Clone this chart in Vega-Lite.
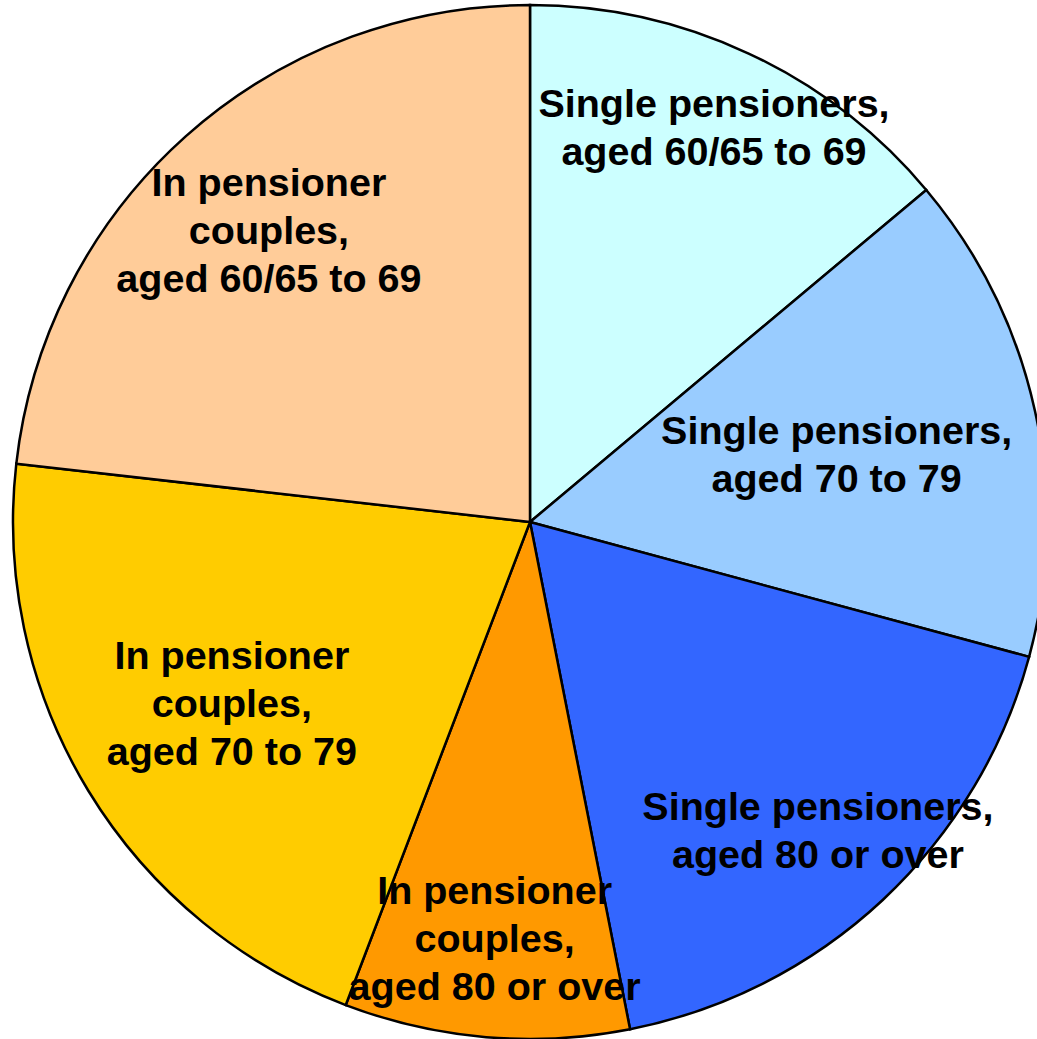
{
  "$schema": "https://vega.github.io/schema/vega-lite/v6.json",
  "width": 1014,
  "height": 1034,
  "autosize": {"type": "none"},
  "padding": {"left": 23, "top": 5, "right": 0, "bottom": 0},
  "background": "white",
  "config": {"view": {"stroke": null}},
  "data": {
    "values": [
      {"idx": 1, "cat": "Single pensioners, aged 60/65 to 69", "label": "Single pensioners,\naged 60/65 to 69", "share": 13.9},
      {"idx": 2, "cat": "Single pensioners, aged 70 to 79", "label": "Single pensioners,\naged 70 to 79", "share": 15.3},
      {"idx": 3, "cat": "Single pensioners, aged 80 or over", "label": "Single pensioners,\naged 80 or over", "share": 17.7},
      {"idx": 4, "cat": "In pensioner couples, aged 80 or over", "label": "In pensioner\ncouples,\naged 80 or over", "share": 8.9},
      {"idx": 5, "cat": "In pensioner couples, aged 70 to 79", "label": "In pensioner\ncouples,\naged 70 to 79", "share": 21.0},
      {"idx": 6, "cat": "In pensioner couples, aged 60/65 to 69", "label": "In pensioner\ncouples,\naged 60/65 to 69", "share": 23.2}
    ]
  },
  "encoding": {
    "theta": {"field": "share", "type": "quantitative", "stack": true},
    "order": {"field": "idx", "type": "quantitative"}
  },
  "layer": [
    {
      "mark": {"type": "arc", "outerRadius": 517, "stroke": "black", "strokeWidth": 2.5},
      "encoding": {
        "color": {
          "field": "cat",
          "type": "nominal",
          "legend": null,
          "scale": {
            "domain": ["Single pensioners, aged 60/65 to 69", "Single pensioners, aged 70 to 79", "Single pensioners, aged 80 or over", "In pensioner couples, aged 80 or over", "In pensioner couples, aged 70 to 79", "In pensioner couples, aged 60/65 to 69"],
            "range": ["#CCFFFF", "#99CCFF", "#3366FF", "#FF9900", "#FFCC00", "#FFCC99"]
          }
        }
      }
    },
    {
      "mark": {"type": "text", "radius": 435, "dy": -10.5, "font": "Liberation Sans", "fontWeight": "bold", "fontSize": 39.5, "lineHeight": 48, "lineBreak": "\n", "align": "center", "baseline": "alphabetic", "color": "black"},
      "encoding": {"text": {"condition": {"test": "datum.idx == 1", "field": "label"}, "value": ""}}
    },
    {
      "mark": {"type": "text", "radius": 314, "dy": -10.5, "font": "Liberation Sans", "fontWeight": "bold", "fontSize": 39.5, "lineHeight": 48, "lineBreak": "\n", "align": "center", "baseline": "alphabetic", "color": "black"},
      "encoding": {"text": {"condition": {"test": "datum.idx == 2", "field": "label"}, "value": ""}}
    },
    {
      "mark": {"type": "text", "radius": 422, "dy": -10.5, "font": "Liberation Sans", "fontWeight": "bold", "fontSize": 39.5, "lineHeight": 48, "lineBreak": "\n", "align": "center", "baseline": "alphabetic", "color": "black"},
      "encoding": {"text": {"condition": {"test": "datum.idx == 3", "field": "label"}, "value": ""}}
    },
    {
      "mark": {"type": "text", "radius": 418, "dy": -34, "font": "Liberation Sans", "fontWeight": "bold", "fontSize": 39.5, "lineHeight": 48, "lineBreak": "\n", "align": "center", "baseline": "alphabetic", "color": "black"},
      "encoding": {"text": {"condition": {"test": "datum.idx == 4", "field": "label"}, "value": ""}}
    },
    {
      "mark": {"type": "text", "radius": 349, "dy": -34, "font": "Liberation Sans", "fontWeight": "bold", "fontSize": 39.5, "lineHeight": 48, "lineBreak": "\n", "align": "center", "baseline": "alphabetic", "color": "black"},
      "encoding": {"text": {"condition": {"test": "datum.idx == 5", "field": "label"}, "value": ""}}
    },
    {
      "mark": {"type": "text", "radius": 392, "dy": -34, "font": "Liberation Sans", "fontWeight": "bold", "fontSize": 39.5, "lineHeight": 48, "lineBreak": "\n", "align": "center", "baseline": "alphabetic", "color": "black"},
      "encoding": {"text": {"condition": {"test": "datum.idx == 6", "field": "label"}, "value": ""}}
    }
  ]
}
